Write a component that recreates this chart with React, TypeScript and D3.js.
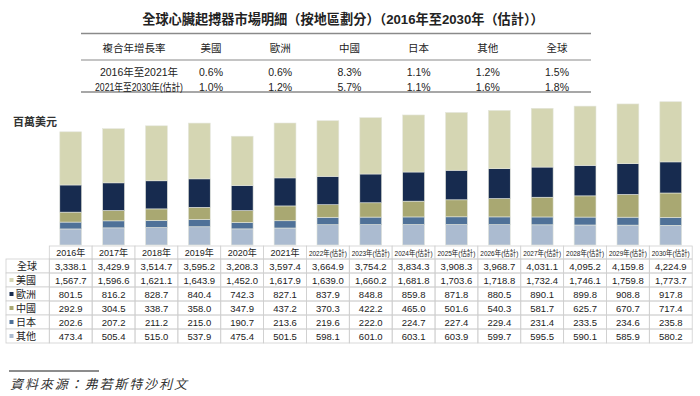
import React from "react";
import * as d3 from "d3";

const years = [
  "2016年", "2017年", "2018年", "2019年", "2020年", "2021年",
  "2022年(估計)", "2023年(估計)", "2024年(估計)", "2025年(估計)", "2026年(估計)",
  "2027年(估計)", "2028年(估計)", "2029年(估計)", "2030年(估計)",
];
const globalTotal = [3338.1, 3429.9, 3514.7, 3595.2, 3208.3, 3597.4, 3664.9, 3754.2, 3834.3, 3908.3, 3968.7, 4031.1, 4095.2, 4159.8, 4224.9];
const us = [1567.7, 1596.6, 1621.1, 1643.9, 1452.0, 1617.9, 1639.0, 1660.2, 1681.8, 1703.6, 1718.8, 1732.4, 1746.1, 1759.8, 1773.7];
const europe = [801.5, 816.2, 828.7, 840.4, 742.3, 827.1, 837.9, 848.8, 859.8, 871.8, 880.5, 890.1, 899.8, 908.8, 917.8];
const china = [292.9, 304.5, 338.7, 358.0, 347.9, 437.2, 370.3, 422.2, 465.0, 501.6, 540.3, 581.7, 625.7, 670.7, 717.4];
const japan = [202.6, 207.2, 211.2, 215.0, 190.7, 213.6, 219.6, 222.0, 224.7, 227.4, 229.4, 231.4, 233.5, 234.6, 235.8];
const others = [473.4, 505.4, 515.0, 537.9, 475.4, 501.5, 598.1, 601.0, 603.1, 603.9, 599.7, 595.5, 590.1, 585.9, 580.2];

const cagrHeaders = ["美國", "歐洲", "中國", "日本", "其他", "全球"];
const cagrPeriods = ["2016年至2021年", "2021年至2030年(估計)"];
const cagr1 = ["0.6%", "0.6%", "8.3%", "1.1%", "1.2%", "1.5%"];
const cagr2 = ["1.0%", "1.2%", "5.7%", "1.1%", "1.6%", "1.8%"];

// series from bottom of the stack to top
const seriesKeys = ["其他", "日本", "中國", "歐洲", "美國"];
const seriesValues = [others, japan, china, europe, us];
const colors: Record<string, string> = {
  "美國": "#d5d6b3",
  "歐洲": "#172b4f",
  "中國": "#a9a872",
  "日本": "#4f7198",
  "其他": "#abbbd0",
};
const tableRows = ["美國", "歐洲", "中國", "日本", "其他"];

const FONT = "'Liberation Sans', 'Noto Sans CJK TC', Arial, sans-serif";

const fmt = d3.format(",.1f");

export default function App() {
  const width = 700;
  const height = 396;

  const x = d3.scaleBand<string>().domain(years).range([49.3, 692.2]).paddingInner(0.49).paddingOuter(0.245);
  const col = d3.scaleBand<string>().domain(years).range([49.3, 692.2]);
  const y = d3.scaleLinear().domain([0, 4500]).range([245, 92.4]);

  const rows = years.map((yr, i) => {
    const r: any = { year: yr };
    seriesKeys.forEach((k, j) => (r[k] = seriesValues[j][i]));
    return r;
  });
  const stacked = d3.stack<any>().keys(seriesKeys)(rows);

  const cagrX = d3.scalePoint<string>().domain(cagrHeaders).range([211, 557]);

  const headTop = 246;
  const rowH = 14;
  const tableRowLabels = ["全球", ...tableRows];
  const tableData = [globalTotal, us, europe, china, japan, others];

  return (
    <svg width={width} height={height} style={{ position: "absolute", left: 0, top: 0 }} fontFamily={FONT}>
      <rect width={width} height={height} fill="#fff" />
      <text x={343} y={24} textAnchor="middle" fontSize={13.2} fontWeight="bold" fill="#222">
        全球心臟起搏器市場明細（按地區劃分）（2016年至2030年（估計））
      </text>

      <line x1={81} x2={591} y1={33.5} y2={33.5} stroke="#8a8a8a" strokeWidth={1.6} />
      <line x1={81} x2={591} y1={60} y2={60} stroke="#8a8a8a" strokeWidth={1.2} />
      <line x1={81} x2={591} y1={92} y2={92} stroke="#8a8a8a" strokeWidth={1.6} />
      <text x={134} y={52} textAnchor="middle" fontSize={10.5} fill="#222">複合年增長率</text>
      {cagrHeaders.map((h) => (
        <text key={h} x={cagrX(h)} y={52} textAnchor="middle" fontSize={10.5} fill="#222">{h}</text>
      ))}
      <text x={139} y={76} textAnchor="middle" fontSize={10.5} fill="#222">{cagrPeriods[0]}</text>
      <text x={139} y={91} textAnchor="middle" fontSize={10.5} fill="#222" textLength={88} lengthAdjust="spacingAndGlyphs">{cagrPeriods[1]}</text>
      {cagr1.map((v, i) => (
        <text key={"a" + i} x={cagrX(cagrHeaders[i])} y={76} textAnchor="middle" fontSize={10.5} fill="#222">{v}</text>
      ))}
      {cagr2.map((v, i) => (
        <text key={"b" + i} x={cagrX(cagrHeaders[i])} y={91} textAnchor="middle" fontSize={10.5} fill="#222">{v}</text>
      ))}

      <text x={13} y={126} fontSize={11} fontWeight="bold" fill="#333">百萬美元</text>

      {stacked.map((s) => (
        <g key={s.key} fill={colors[s.key]}>
          {s.map((d) => (
            <rect
              key={d.data.year}
              x={x(d.data.year)}
              width={x.bandwidth()}
              y={y(d[1])}
              height={y(d[0]) - y(d[1])}
              stroke="#e4e6dc"
              strokeWidth={0.6}
            />
          ))}
        </g>
      ))}

      {/* data table */}
      <g>
        {years.map((yr) => (
          <g key={yr}>
            <rect x={col(yr)} y={headTop} width={col.bandwidth()} height={rowH - 1} fill="#fff" stroke="#cfcfcf" strokeWidth={0.8} />
            {yr.length > 5 ? (
              <text x={col(yr)! + col.bandwidth() / 2} y={headTop + 9.5} textAnchor="middle" fontSize={8} fill="#222" textLength={38} lengthAdjust="spacingAndGlyphs">{yr}</text>
            ) : (
              <text x={col(yr)! + col.bandwidth() / 2} y={headTop + 10} textAnchor="middle" fontSize={9} fill="#222">{yr}</text>
            )}
          </g>
        ))}
        {tableRowLabels.map((lab, r) => {
          const top = headTop + rowH * (r + 1) - 1;
          return (
            <g key={lab}>
              <rect x={6} y={top} width={43.3} height={rowH} fill="#fff" stroke="#cfcfcf" strokeWidth={0.8} />
              {r === 0 ? (
                <text x={27} y={top + 10.5} textAnchor="middle" fontSize={10} fill="#222">{lab}</text>
              ) : (
                <g>
                  <rect x={9.5} y={top + 5} width={4} height={4} fill={colors[lab]} />
                  <text x={16} y={top + 10.5} fontSize={10} fill="#222">{lab}</text>
                </g>
              )}
              {years.map((yr, i) => (
                <g key={yr}>
                  <rect x={col(yr)} y={top} width={col.bandwidth()} height={rowH} fill="none" stroke="#cfcfcf" strokeWidth={0.8} />
                  <text x={col(yr)! + col.bandwidth() / 2} y={top + 10.5} textAnchor="middle" fontSize={9.5} fill="#222">
                    {fmt(tableData[r][i])}
                  </text>
                </g>
              ))}
            </g>
          );
        })}
      </g>

      <line x1={9} x2={99} y1={371} y2={371} stroke="#666" strokeWidth={1.5} />
      <text x={10} y={389} fontSize={13} fontStyle="italic" letterSpacing={1.9} fill="#333" fontFamily="'Noto Sans CJK TC', serif">
        資料來源：弗若斯特沙利文
      </text>
    </svg>
  );
}
